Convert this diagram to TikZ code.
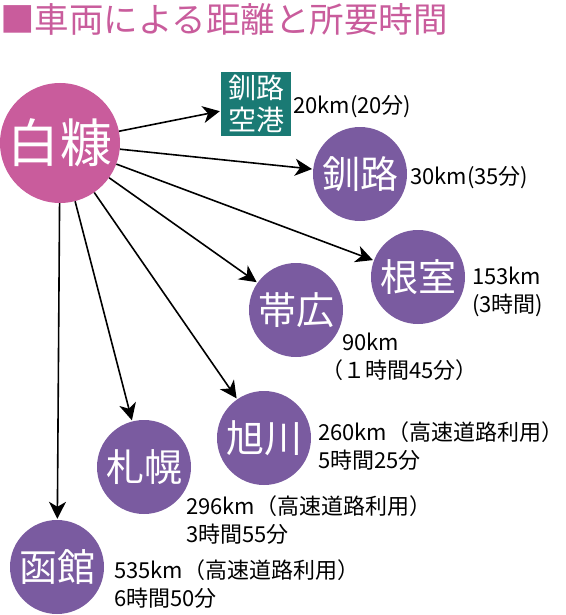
\documentclass[tikz,border=0pt]{standalone}
\usepackage{fontspec}
\setmainfont{Noto Sans CJK JP}
\usetikzlibrary{arrows.meta}
\definecolor{cityPink}{RGB}{201,92,156}
\definecolor{cityPurple}{RGB}{122,91,160}
\definecolor{airTeal}{RGB}{26,122,116}

\tikzset{
  city/.style={circle, fill=cityPurple, text=white, minimum size=94pt,
    inner sep=0pt, font=\fontsize{38}{38}\selectfont},
  info/.style={anchor=west, align=left, inner sep=0pt,
    font=\fontsize{22}{28}\selectfont},
  route/.style={-{Stealth[length=17pt, width=17pt, inset=5pt]},
    line width=1.6pt, shorten >=1pt},
}

\begin{document}
\begin{tikzpicture}[x=1pt, y=-1pt]
  \useasboundingbox (0,0) rectangle (565,615);

  % title
  \node[anchor=west, inner sep=0pt, text=cityPink,
    font=\fontsize{34.5}{34.5}\selectfont] (title) at (0,19)
    {■車両による距離と所要時間};

  % start point and destinations
  \node[circle, fill=cityPink, text=white, minimum size=120pt, inner sep=0pt,
    font=\fontsize{52}{52}\selectfont] (shiranuka) at (60,143) {白糠};
  \node[fill=airTeal, text=white, minimum width=70pt, minimum height=64pt,
    inner sep=0pt, align=center, font=\fontsize{28}{32}\selectfont]
    (airport) at (256,104) {釧路\\空港};

  \node[city] (kushiro)   at (360,174) {釧路};
  \node[city] (nemuro)    at (418,277) {根室};
  \node[city] (obihiro)   at (296,310) {帯広};
  \node[city] (asahikawa) at (264,438) {旭川};
  \node[city] (sapporo)   at (144,467) {札幌};
  \node[city] (hakodate)  at (57,567)  {函館};

  \foreach \dest in {airport,kushiro,nemuro,obihiro,asahikawa,sapporo,hakodate}
    \draw[route] (shiranuka) -- (\dest);

  % distance and time
  \node[info] (airportkm)   at (293,107) {20km(20分)};
  \node[info] (kushirokm)   at (410,178) {30km(35分)};
  \node[info] (nemurokm)    at (472,292) {153km\\(3時間)};
  \node[info] (obihirokm)   at (342,357) {90km\\\hspace*{-21pt}（１時間45分）};
  \node[info] (asahikawakm) at (318,446) {260km（高速道路利用）\\5時間25分};
  \node[info] (sapporokm)   at (186,520) {296km（高速道路利用）\\3時間55分};
  \node[info] (hakodatekm)  at (114,584) {535km（高速道路利用）\\6時間50分};
\end{tikzpicture}
\end{document}
